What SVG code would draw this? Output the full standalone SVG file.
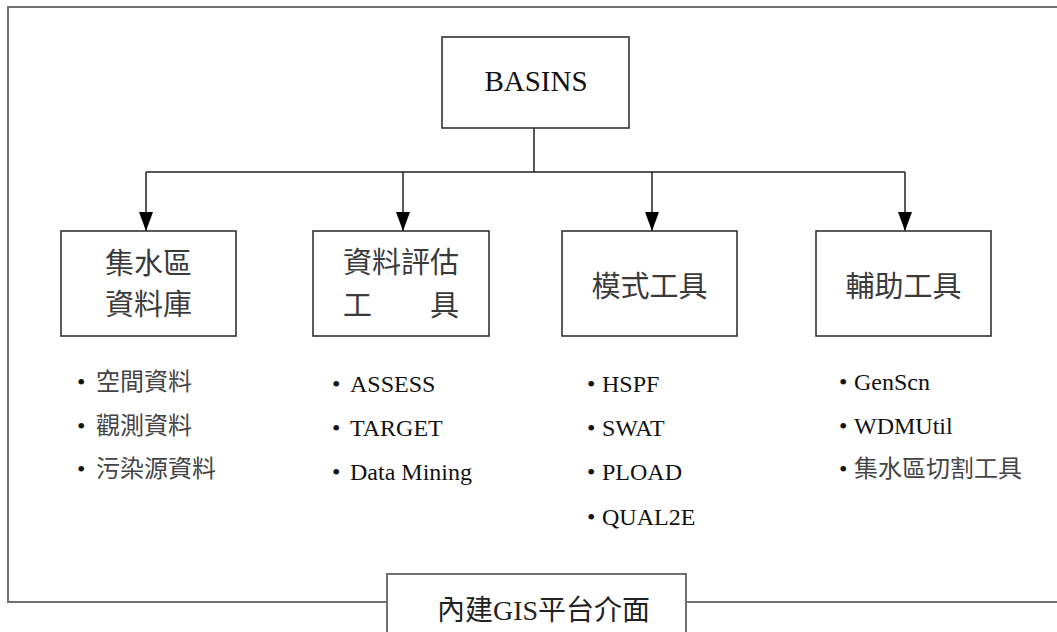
<svg xmlns="http://www.w3.org/2000/svg" width="1057" height="632" viewBox="0 0 1057 632">
<defs>
<style>
.frame{fill:none;stroke:#707070;stroke-width:2}
.box{fill:#fff;stroke:#333;stroke-width:1.6}
.conn{fill:none;stroke:#222;stroke-width:1.5}
.t{font-family:"Liberation Serif","Noto Sans CJK TC",serif;}
.title{font-size:29px;fill:#3a3a3a;font-family:"Noto Sans CJK TC","Liberation Serif",sans-serif}
.lat{font-size:24px;fill:#111;font-family:"Liberation Serif","Noto Sans CJK TC",serif}
.cjk{font-size:24px;fill:#444;font-family:"Liberation Serif","Noto Sans CJK TC",serif}
</style>
<marker id="arr" markerUnits="userSpaceOnUse" viewBox="0 0 19 14" markerWidth="19" markerHeight="14" refX="19" refY="7" orient="auto">
<path d="M0 0 L19 7 L0 14 Z" fill="#000"/>
</marker>
</defs>
<rect width="1057" height="632" fill="#fff"/>
<path class="frame" d="M1060 7 H8 V602 H387 M686 602 H1060"/>

<g id="connectors">
<path class="conn" d="M534 128 V172 M146 172 H905"/>
<path class="conn" d="M146 172 V231" marker-end="url(#arr)"/>
<path class="conn" d="M403 172 V231" marker-end="url(#arr)"/>
<path class="conn" d="M652 172 V231" marker-end="url(#arr)"/>
<path class="conn" d="M905 172 V231" marker-end="url(#arr)"/>
</g>

<g id="basins">
<rect class="box" x="442" y="37" width="187" height="91"/>
<text class="t" x="536" y="91" font-size="29" fill="#111" text-anchor="middle">BASINS</text>
</g>

<g id="node1">
<rect class="box" x="61" y="231" width="175" height="105"/>
<text class="title" x="148.5" y="274" text-anchor="middle">集水區</text>
<text class="title" x="148.5" y="315" text-anchor="middle">資料庫</text>
</g>

<g id="node2">
<rect class="box" x="313" y="231" width="176" height="105"/>
<text class="title" x="401" y="273" text-anchor="middle">資料評估</text>
<text class="title" x="343" y="316">工</text>
<text class="title" x="459" y="316" text-anchor="end">具</text>
</g>

<g id="node3">
<rect class="box" x="562" y="231" width="175" height="105"/>
<text class="title" x="649.5" y="297" text-anchor="middle">模式工具</text>
</g>

<g id="node4">
<rect class="box" x="816" y="231" width="175" height="105"/>
<text class="title" x="903.5" y="297" text-anchor="middle">輔助工具</text>
</g>

<g id="list1">
<text class="cjk" y="390"><tspan class="lat" x="77">•</tspan><tspan x="96">空間資料</tspan></text>
<text class="cjk" y="434"><tspan class="lat" x="77">•</tspan><tspan x="96">觀測資料</tspan></text>
<text class="cjk" y="477"><tspan class="lat" x="77">•</tspan><tspan x="96">污染源資料</tspan></text>
</g>

<g id="list2">
<text class="lat" y="392"><tspan x="332">•</tspan><tspan x="350">ASSESS</tspan></text>
<text class="lat" y="436"><tspan x="332">•</tspan><tspan x="350">TARGET</tspan></text>
<text class="lat" y="480"><tspan x="332">•</tspan><tspan x="350">Data Mining</tspan></text>
</g>

<g id="list3">
<text class="lat" y="392"><tspan x="587">•</tspan><tspan x="602">HSPF</tspan></text>
<text class="lat" y="436"><tspan x="587">•</tspan><tspan x="602">SWAT</tspan></text>
<text class="lat" y="480"><tspan x="587">•</tspan><tspan x="602">PLOAD</tspan></text>
<text class="lat" y="525"><tspan x="587">•</tspan><tspan x="602">QUAL2E</tspan></text>
</g>

<g id="list4">
<text class="lat" y="390"><tspan x="839">•</tspan><tspan x="854">GenScn</tspan></text>
<text class="lat" y="434"><tspan x="839">•</tspan><tspan x="854">WDMUtil</tspan></text>
<text class="cjk" y="477"><tspan class="lat" x="839">•</tspan><tspan x="854">集水區切割工具</tspan></text>
</g>

<g id="gis">
<rect x="387" y="574" width="299" height="70" fill="#fff" stroke="#707070" stroke-width="2"/>
<text class="t" x="437" y="620" font-size="28" fill="#222">內建GIS平台介面</text>
</g>
</svg>
